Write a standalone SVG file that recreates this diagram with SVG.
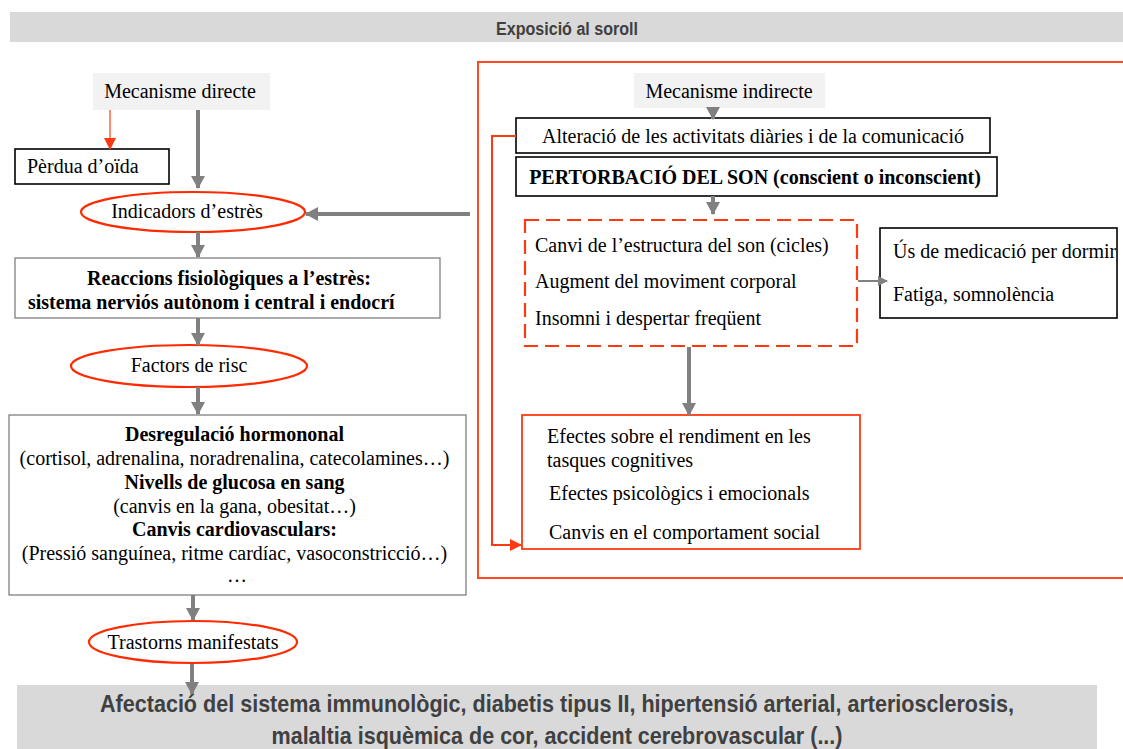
<svg xmlns="http://www.w3.org/2000/svg" width="1123" height="749" viewBox="0 0 1123 749">
<defs>
<style>
.t{font-family:"Liberation Serif","Times New Roman",serif;font-size:20px;fill:#000}
.b{font-weight:bold}
.box{fill:#fff;stroke:#000;stroke-width:1.6}
.gbox{fill:#fff;stroke:#808080;stroke-width:1.3}
.rbox{fill:#fff;stroke:#ff3a10;stroke-width:1.8}
.ell{fill:#fff;stroke:#ff2a00;stroke-width:2.2}
.lt{fill:#f2f2f2}
.ga{stroke:#808080;stroke-width:4;fill:none}
.ra{stroke:#ff3a10;stroke-width:2;fill:none}
.sans{font-family:"Liberation Sans",Arial,sans-serif;font-weight:bold;fill:#404040}
</style>
<marker id="mg" markerUnits="userSpaceOnUse" markerWidth="14" markerHeight="14" refX="12" refY="7" orient="auto"><path d="M0,0 L13,7 L0,14 z" fill="#808080"/></marker>
<marker id="mgs" markerUnits="userSpaceOnUse" markerWidth="10" markerHeight="10" refX="9" refY="5" orient="auto"><path d="M0,0 L10,5 L0,10 z" fill="#808080"/></marker>
<marker id="mr" markerUnits="userSpaceOnUse" markerWidth="12" markerHeight="12" refX="11" refY="6" orient="auto"><path d="M0,0 L12,6 L0,12 z" fill="#ff3a10"/></marker>
<clipPath id="cr"><rect x="0" y="0" width="1117" height="749"/></clipPath>
</defs>
<rect width="1123" height="749" fill="#fff"/>

<g id="banner">
<rect x="10" y="12" width="1113" height="30" fill="#d9d9d9"/>
<text class="sans" x="567" y="35" font-size="18" text-anchor="middle" textLength="142" lengthAdjust="spacingAndGlyphs">Exposició al soroll</text>
</g>

<g id="indirect-frame">
<rect x="478" y="62" width="650" height="516" fill="none" stroke="#ff4b1f" stroke-width="2"/>
</g>

<g id="mec-directe">
<rect class="lt" x="93" y="73" width="177" height="37"/>
<text class="t" x="180" y="98" text-anchor="middle">Mecanisme directe</text>
</g>
<g id="perdua">
<rect class="box" x="15" y="149" width="154" height="35"/>
<text class="t" x="27" y="173">Pèrdua d’oïda</text>
</g>
<g id="indicadors">
<ellipse class="ell" cx="193" cy="212" rx="112" ry="20"/>
<text class="t" x="187" y="218" text-anchor="middle">Indicadors d’estrès</text>
</g>
<g id="reaccions">
<rect class="gbox" x="15" y="258" width="425" height="60"/>
<text class="t b" x="229" y="285" text-anchor="middle">Reaccions fisiològiques a l’estrès:</text>
<text class="t b" x="28" y="309">sistema nerviós autònom i central i endocrí</text>
</g>
<g id="factors">
<ellipse class="ell" cx="189" cy="366" rx="118" ry="21"/>
<text class="t" x="189" y="372" text-anchor="middle">Factors de risc</text>
</g>
<g id="desregulacio">
<rect class="gbox" x="9" y="415" width="457" height="180"/>
<text class="t" text-anchor="middle">
<tspan class="b" x="237" y="441">Desregulació hormononal</tspan>
<tspan x="237" y="465">(cortisol, adrenalina, noradrenalina, catecolamines…)</tspan>
<tspan class="b" x="237" y="489">Nivells de glucosa en sang</tspan>
<tspan x="237" y="513">(canvis en la gana, obesitat…)</tspan>
<tspan class="b" x="237" y="536">Canvis cardiovasculars:</tspan>
<tspan x="237" y="560">(Pressió sanguínea, ritme cardíac, vasoconstricció…)</tspan>
<tspan x="237" y="582">…</tspan>
</text>
</g>
<g id="trastorns">
<ellipse class="ell" cx="193" cy="642" rx="104" ry="21"/>
<text class="t" x="193" y="649" text-anchor="middle">Trastorns manifestats</text>
</g>
<g id="afectacio">
<rect x="17" y="685" width="1080" height="64" fill="#d9d9d9"/>
<text class="sans" x="557" y="712" font-size="24" text-anchor="middle" textLength="914" lengthAdjust="spacingAndGlyphs">Afectació del sistema immunològic, diabetis tipus II, hipertensió arterial, arteriosclerosis,</text>
<text class="sans" x="557" y="744" font-size="24" text-anchor="middle" textLength="571" lengthAdjust="spacingAndGlyphs">malaltia isquèmica de cor, accident cerebrovascular (...)</text>
</g>

<g id="mec-indirecte">
<rect class="lt" x="634" y="73" width="191" height="35"/>
<text class="t" x="729" y="98" text-anchor="middle">Mecanisme indirecte</text>
</g>
<g id="alteracio">
<rect class="box" x="516" y="118" width="474" height="35"/>
<text class="t" x="753" y="143" text-anchor="middle">Alteració de les activitats diàries i de la comunicació</text>
</g>
<g id="pertorbacio">
<rect class="box" x="516" y="157" width="481" height="39"/>
<text class="t b" x="755" y="184" text-anchor="middle">PERTORBACIÓ DEL SON (conscient o inconscient)</text>
</g>
<g id="canvis-son">
<rect x="525" y="220" width="332" height="126" fill="#fff" stroke="#ff3a10" stroke-width="2.2" stroke-dasharray="14,7"/>
<text class="t" x="535" y="252">Canvi de l’estructura del son (cicles)</text>
<text class="t" x="535" y="288">Augment del moviment corporal</text>
<text class="t" x="535" y="325">Insomni i despertar freqüent</text>
</g>
<g id="medicacio">
<rect class="box" x="880" y="228" width="237" height="90"/>
<text class="t" x="893" y="258" clip-path="url(#cr)">Ús de medicació per dormir</text>
<text class="t" x="893" y="301">Fatiga, somnolència</text>
</g>
<g id="efectes">
<rect class="rbox" x="522" y="415" width="338" height="134"/>
<text class="t" x="547" y="443">Efectes sobre el rendiment en les</text>
<text class="t" x="547" y="467">tasques cognitives</text>
<text class="t" x="549" y="500">Efectes psicològics i emocionals</text>
<text class="t" x="549" y="539">Canvis en el comportament social</text>
</g>

<g id="connectors">
<line x1="110" y1="110" x2="110" y2="149" stroke="#ff3a10" stroke-width="1.2" marker-end="url(#mr)"/>
<line class="ga" x1="198" y1="110" x2="198" y2="188" marker-end="url(#mg)"/>
<line class="ga" x1="470" y1="214" x2="306" y2="214" marker-end="url(#mg)"/>
<line class="ga" x1="198" y1="232" x2="198" y2="257" marker-end="url(#mg)"/>
<line class="ga" x1="198" y1="318" x2="198" y2="345" marker-end="url(#mg)"/>
<line class="ga" x1="198" y1="387" x2="198" y2="414" marker-end="url(#mg)"/>
<line class="ga" x1="193" y1="595" x2="193" y2="620" marker-end="url(#mg)"/>
<line class="ga" x1="192" y1="664" x2="192" y2="694" marker-end="url(#mg)"/>
<line class="ga" x1="713" y1="108" x2="713" y2="119" marker-end="url(#mg)"/>
<line class="ga" x1="713" y1="196" x2="713" y2="214" marker-end="url(#mg)"/>
<line x1="858" y1="281" x2="887" y2="281" stroke="#808080" stroke-width="2" marker-end="url(#mgs)"/>
<line class="ga" x1="689" y1="347" x2="689" y2="415" marker-end="url(#mg)"/>
<polyline class="ra" points="516,136 492,136 492,545 521,545" marker-end="url(#mr)"/>
</g>
</svg>
